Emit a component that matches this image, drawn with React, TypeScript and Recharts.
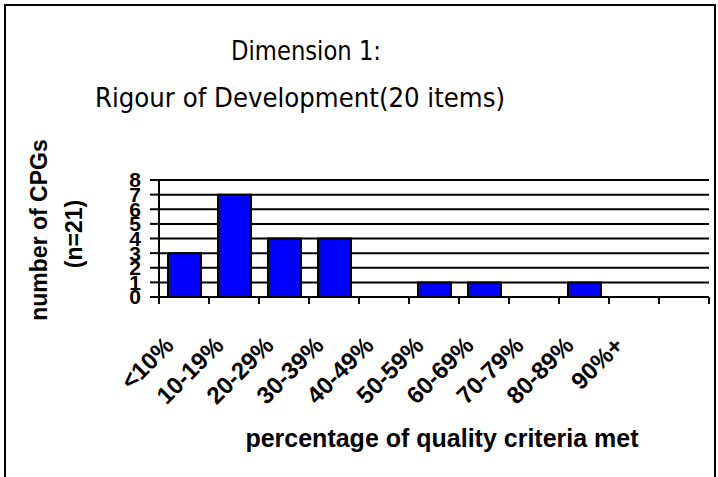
import { BarChart, Bar, XAxis, YAxis, CartesianGrid } from "recharts";

// categories (last slot is empty in the original)
const CATEGORIES = [
  "<10%",
  "10-19%",
  "20-29%",
  "30-39%",
  "40-49%",
  "50-59%",
  "60-69%",
  "70-79%",
  "80-89%",
  "90%+",
  "",
];
const COUNTS = [3, 7, 4, 4, 0, 1, 1, 0, 1, 0, 0];
const Y_TICKS = [0, 1, 2, 3, 4, 5, 6, 7, 8];

const data = CATEGORIES.map((c, i) => ({ cat: c, count: COUNTS[i] }));

const W = 718;
const H = 477;
const PLOT_LEFT = 159;
const PLOT_RIGHT = 709;
const HALF_BAND = (PLOT_RIGHT - PLOT_LEFT) / CATEGORIES.length / 2;

const BOLD = "'Liberation Sans', Arial, sans-serif";
const TITLE_FONT = "'Comic Sans MS', 'DejaVu Sans', sans-serif";

function XTick(props: any) {
  const { x, y, payload, index } = props;
  const last = index === CATEGORIES.length - 1;
  return (
    <g>
      <line x1={x - HALF_BAND} x2={x - HALF_BAND} y1={y - 8} y2={y - 1} stroke="#000" strokeWidth={2} />
      {last && (
        <line x1={x + HALF_BAND} x2={x + HALF_BAND} y1={y - 8} y2={y - 1} stroke="#000" strokeWidth={2} />
      )}
      <text
        x={x - 9}
        y={y + 42}
        transform={`rotate(-45, ${x - 9}, ${y + 42})`}
        textAnchor="end"
        fontFamily={BOLD}
        fontWeight="bold"
        fontSize={24}
        fill="#000"
      >
        {payload.value}
      </text>
    </g>
  );
}

export default function App() {
  return (
    <div style={{ position: "absolute", left: 0, top: 0, width: W, height: H, background: "#fff", overflow: "hidden" }}>
      <div
        style={{
          position: "absolute",
          left: 4,
          top: 4,
          width: 708,
          height: 500,
          border: "2px solid #000",
        }}
      />
      <div style={{ position: "absolute", left: 0, top: 0 }}>
        <BarChart width={W} height={H} data={data} margin={{ top: 180, right: 9, left: 99, bottom: 120 }}>
          <CartesianGrid vertical={false} stroke="#000" strokeWidth={2} />
          <XAxis
            dataKey="cat"
            interval={0}
            axisLine={{ stroke: "#000", strokeWidth: 2 }}
            tickLine={false}
            tick={<XTick />}
            height={60}
          />
          <YAxis
            domain={[0, 8]}
            ticks={Y_TICKS}
            interval={0}
            width={60}
            axisLine={{ stroke: "#000", strokeWidth: 2 }}
            tickLine={{ stroke: "#000", strokeWidth: 2 }}
            tickSize={9}
            tickMargin={9}
            tick={{ fill: "#000", fontFamily: BOLD, fontWeight: "bold", fontSize: 21 }}
          />
          <YAxis
            yAxisId="right"
            orientation="right"
            domain={[0, 8]}
            width={0}
            tick={false}
            tickLine={false}
            axisLine={{ stroke: "#000", strokeWidth: 2 }}
          />
          <Bar dataKey="count" fill="#0000ff" stroke="#000" strokeWidth={2} barSize={33} isAnimationActive={false} />
        </BarChart>
      </div>
      <svg width={W} height={H} style={{ position: "absolute", left: 0, top: 0, pointerEvents: "none" }}>
        <text
          x={306}
          y={60}
          textAnchor="middle"
          fontFamily={TITLE_FONT}
          fontSize={27}
          textLength={150}
          lengthAdjust="spacingAndGlyphs"
          fill="#000"
        >
          Dimension 1:
        </text>
        <text
          x={300}
          y={107}
          textAnchor="middle"
          fontFamily={TITLE_FONT}
          fontSize={27}
          textLength={410}
          lengthAdjust="spacingAndGlyphs"
          fill="#000"
        >
          Rigour of Development(20 items)
        </text>
        <text
          transform="translate(47, 230) rotate(-90)"
          textAnchor="middle"
          fontFamily={BOLD}
          fontWeight="bold"
          fontSize={23}
          fill="#000"
        >
          number of CPGs
        </text>
        <text
          transform="translate(82, 234) rotate(-90)"
          textAnchor="middle"
          fontFamily={BOLD}
          fontWeight="bold"
          fontSize={23}
          fill="#000"
        >
          (n=21)
        </text>
        <text x={442} y={447} textAnchor="middle" fontFamily={BOLD} fontWeight="bold" fontSize={25} fill="#000">
          percentage of quality criteria met
        </text>
      </svg>
    </div>
  );
}
